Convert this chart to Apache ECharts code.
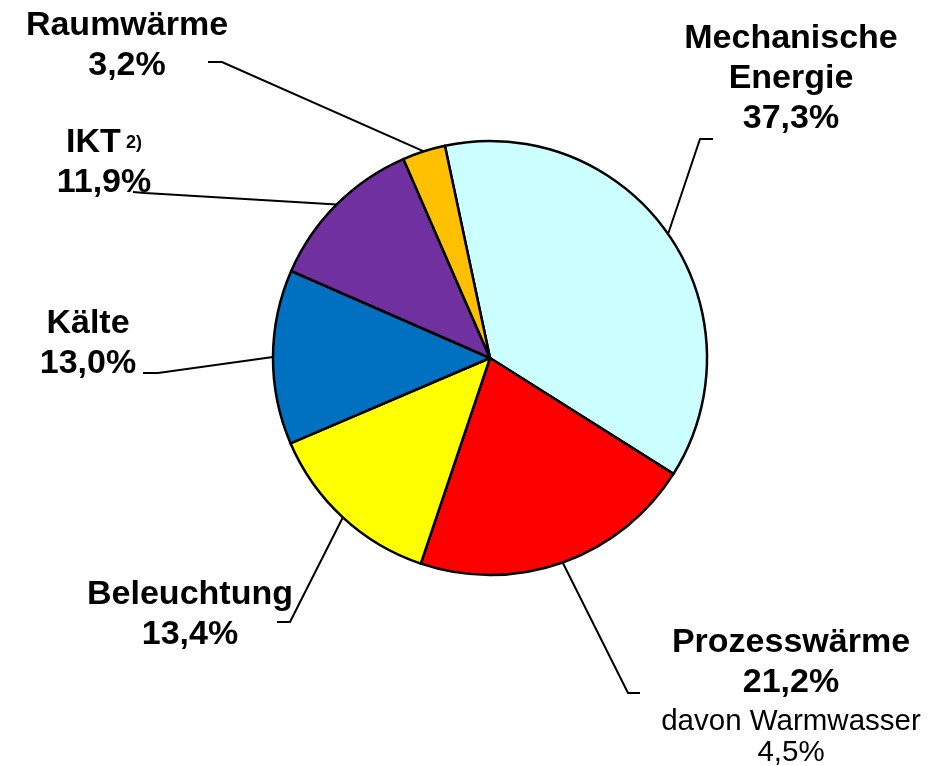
<!DOCTYPE html>
<html>
<head>
<meta charset="utf-8">
<script src="https://cdn.jsdelivr.net/npm/echarts@6/dist/echarts.min.js"></script>
<style>
  html, body { margin: 0; padding: 0; background: #ffffff; }
  #main { width: 936px; height: 766px; }
</style>
</head>
<body>
<div id="main"></div>
<script>
// Shares of final electricity use by application (percent)
const categories = ['Mechanische\nEnergie', 'Prozesswärme', 'Beleuchtung', 'Kälte', 'IKT', 'Raumwärme'];
const shares = [37.3, 21.2, 13.4, 13.0, 11.9, 3.2];
const footnotes = ['', '', '', '', '2)', ''];
const subNames = ['', 'davon Warmwasser', '', '', '', ''];
const subShares = [null, 4.5, null, null, null, null];

const sliceColors = ['#CCFFFF', '#FF0000', '#FFFF00', '#0070C0', '#7030A0', '#FFC000'];

// Top-centre anchor of each label block, and the bends of each leader line
const labelAnchors = [[791, 19], [791, 623], [190, 575], [88, 304], [104, 123], [127, 6]];
const leaderBends = [
  [[700, 139], [713, 139]],
  [[628, 693], [640, 693]],
  [[290, 622], [277, 622]],
  [[158, 373], [143, 373]],
  [[145, 193], [133, 192]],
  [[222, 62], [208, 62]]
];

const pct = v => v.toFixed(1).replace('.', ',') + '%';

const chart = echarts.init(document.getElementById('main'), null, { renderer: 'canvas' });

const FONT = '"Liberation Sans", Arial, Helvetica, sans-serif';

chart.setOption({
  animation: false,
  backgroundColor: '#ffffff',
  series: [{
    type: 'pie',
    center: [490, 358],
    radius: 217,
    startAngle: 102,
    clockwise: true,
    avoidLabelOverlap: false,
    emphasis: { disabled: true },
    itemStyle: { borderColor: '#000000', borderWidth: 2.5 },
    label: {
      show: true,
      position: 'outside',
      color: '#000000',
      fontFamily: FONT,
      formatter: p => {
        const i = p.dataIndex;
        let s = p.name.split('\n').map(t => '{b|' + t + '}').join('\n');
        if (footnotes[i]) s += '{sup| ' + footnotes[i] + '}';
        s += '\n{b|' + pct(shares[i]) + '}';
        if (subNames[i]) s += '\n{s|' + subNames[i] + '}\n{s2|' + pct(subShares[i]) + '}';
        return s;
      },
      rich: {
        b: { fontFamily: FONT, fontSize: 34, fontWeight: 'bold', lineHeight: 40, color: '#000', align: 'center' },
        sup: { fontFamily: FONT, fontSize: 18, fontWeight: 'bold', lineHeight: 40, color: '#000', align: 'center' },
        s: { fontFamily: FONT, fontSize: 29.5, lineHeight: 38, color: '#000', align: 'center' },
        s2: { fontFamily: FONT, fontSize: 29.5, lineHeight: 24, color: '#000', align: 'center' }
      }
    },
    labelLine: {
      show: true,
      length: 10,
      length2: 10,
      lineStyle: { color: '#000000', width: 2 }
    },
    labelLayout: p => {
      const i = p.dataIndex;
      const res = {
        x: labelAnchors[i][0],
        y: labelAnchors[i][1],
        align: 'center',
        verticalAlign: 'top'
      };
      const pts = p.labelLinePoints;
      if (pts && pts.length) {
        res.labelLinePoints = [pts[0]].concat(leaderBends[i]);
      }
      return res;
    },
    data: categories.map((name, i) => ({
      name: name,
      value: shares[i],
      itemStyle: { color: sliceColors[i] }
    }))
  }]
});
</script>
</body>
</html>
